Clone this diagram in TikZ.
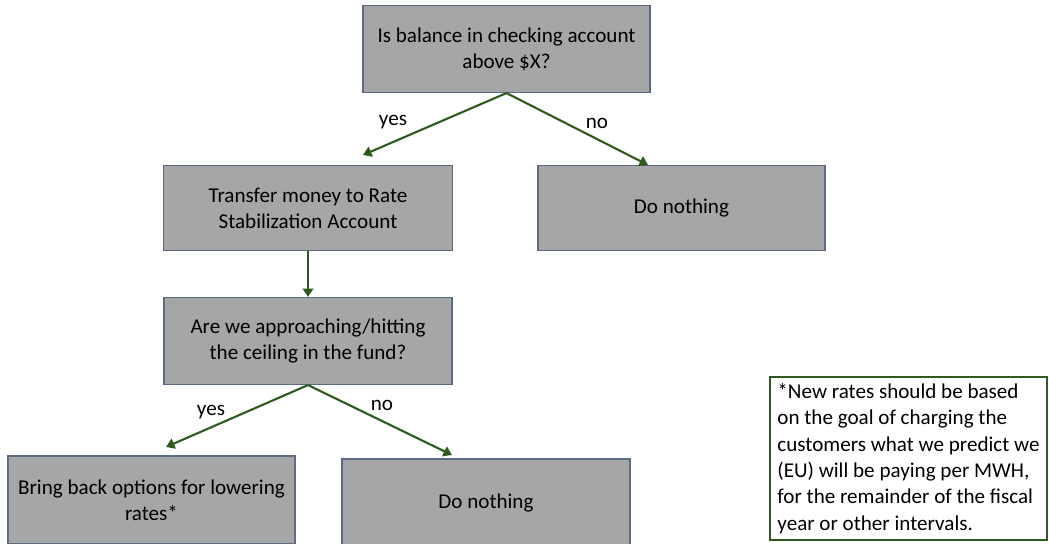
\documentclass[tikz,border=0pt]{standalone}
\usepackage{fontspec}
\setmainfont{Carlito}
\usetikzlibrary{arrows.meta}

\definecolor{boxgray}{HTML}{A6A6A6}
\definecolor{boxedge}{HTML}{5B6B86}
\definecolor{flowgreen}{HTML}{2F5A1E}

\tikzset{
  stepbox/.style={draw=boxedge,line width=0.8pt,fill=boxgray,align=center,
    inner sep=0pt,font=\fontsize{15}{18.6}\selectfont},
  notebox/.style={draw=flowgreen,line width=1.5pt,align=left,
    inner sep=0pt,font=\fontsize{15}{18.7}\selectfont},
  flowarrow/.style={draw=flowgreen,line width=1.5pt,-{Triangle[length=6pt,width=7.5pt]}},
  answer/.style={font=\fontsize{15}{18}\selectfont}
}

\begin{document}
\begin{tikzpicture}[x=0.025cm,y=-0.025cm]
    \useasboundingbox (0,0) rectangle (1049,544);

    \node[stepbox,minimum width=287*0.025cm,minimum height=87*0.025cm] (q1) at (506.5,49) {Is balance in checking account\\above \$X?};
    \node[stepbox,minimum width=289*0.025cm,minimum height=85*0.025cm] (move) at (308,208) {Transfer money to Rate\\Stabilization Account};
    \node[stepbox,minimum width=287*0.025cm,minimum height=85*0.025cm] (idle1) at (681.5,208) {Do nothing};
    \node[stepbox,minimum width=288*0.025cm,minimum height=87*0.025cm] (q2) at (308,341) {Are we approaching/hitting\\the ceiling in the fund?};
    \node[stepbox,minimum width=287*0.025cm,minimum height=88*0.025cm] (lower) at (151.5,500) {Bring back options for lowering\\rates*};
    \node[stepbox,minimum width=288*0.025cm,minimum height=88*0.025cm] (idle2) at (486,503) {Do nothing};
    \node[notebox,minimum width=277*0.025cm,minimum height=163*0.025cm] (note) at (908.5,458.5)
        {*New rates should be based\\on the goal of charging the\\customers what we predict we\\(EU) will be paying per MWH,\\for the remainder of the fiscal\\year or other intervals.};

    \coordinate (yes1) at (363,155);
    \coordinate (no1)  at (648,165);
    \coordinate (yes2) at (166,447);
    \coordinate (no2)  at (452,455);

    \draw [flowarrow] (q1.south) -- (yes1);
    \draw [flowarrow] (q1.south) -- (no1);
    \draw [flowarrow] (move.south) -- (q2.north);
    \draw [flowarrow] (q2.south) -- (yes2);
    \draw [flowarrow] (q2.south) -- (no2);

    \node[answer] (y1) at (393,122) {yes};
    \node[answer] (n1) at (597,123) {no};
    \node[answer] (y2) at (211,412) {yes};
    \node[answer] (n2) at (382,405) {no};
\end{tikzpicture}
\end{document}
